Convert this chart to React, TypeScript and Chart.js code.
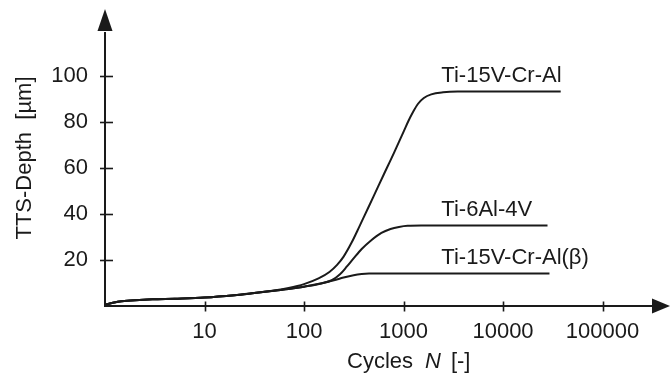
import React, { useEffect, useRef } from "react";
import { Chart, registerables } from "chart.js";

Chart.register(...registerables);

// ---- data ----
const seriesNames = ["Ti-15V-Cr-Al", "Ti-6Al-4V", "Ti-15V-Cr-Al(β)"];

const cyclesA = [1, 1.4, 2, 3, 5, 10, 20, 30, 50, 70, 100, 140, 180, 215, 250, 300, 355, 400, 500, 630, 800, 1000, 1120, 1250, 1400, 1600, 1900, 2500, 3500, 38000];
const depthA = [0.6, 2.0, 2.5, 2.9, 3.2, 3.7, 4.7, 5.5, 6.7, 7.8, 9.5, 12, 14.8, 17.9, 21.5, 27.5, 34, 38.8, 47.7, 57, 66.5, 75.8, 80.5, 84.5, 88, 90.5, 92.1, 93, 93.3, 93.3];

const cyclesB = [1, 1.4, 2, 3, 5, 10, 20, 30, 50, 70, 100, 150, 190, 230, 270, 315, 380, 465, 600, 740, 900, 1100, 1500, 28000];
const depthB = [0.6, 2.0, 2.5, 2.9, 3.2, 3.7, 4.7, 5.5, 6.6, 7.4, 8.4, 9.8, 11.2, 13.8, 17.2, 20.7, 24.8, 28.3, 31.8, 33.5, 34.4, 34.9, 35, 35];

const cyclesC = [1, 1.4, 2, 3, 5, 10, 20, 30, 50, 70, 100, 150, 200, 250, 315, 380, 450, 29300];
const depthC = [0.6, 2.0, 2.5, 2.9, 3.2, 3.7, 4.7, 5.5, 6.6, 7.4, 8.4, 9.9, 11.2, 12.4, 13.4, 13.9, 14.1, 14.1];

const xTickValues = [10, 100, 1000, 10000, 100000];
const yTickValues = [20, 40, 60, 80, 100];
const xMin = 1;
const xMax = 361000;
const yMin = 0;
const yMax = 120;
const labelCycle = 2400;

const xTitleParts = ["Cycles", "N", "[-]"];
const yTitle = "TTS-Depth  [µm]";

const FONT = "'Liberation Sans', Arial, Helvetica, sans-serif";
const INK = "#1a1a1a";

const toPoints = (xs: number[], ys: number[]) => xs.map((x, i) => ({ x, y: ys[i] }));

const decorPlugin = {
  id: "decor",
  afterDraw(chart: any) {
    const { ctx, chartArea, scales } = chart;
    const xs = scales.x;
    const ys = scales.y;
    const left = chartArea.left;
    const bottom = chartArea.bottom;
    ctx.save();
    ctx.strokeStyle = INK;
    ctx.fillStyle = INK;
    ctx.lineWidth = 2;
    // x axis line + arrow
    ctx.beginPath();
    ctx.moveTo(left - 1, bottom);
    ctx.lineTo(655, bottom);
    ctx.stroke();
    ctx.beginPath();
    ctx.moveTo(652, bottom - 7.5);
    ctx.lineTo(670, bottom);
    ctx.lineTo(652, bottom + 7.5);
    ctx.closePath();
    ctx.fill();
    // y axis line + arrow
    ctx.beginPath();
    ctx.moveTo(left, bottom + 1);
    ctx.lineTo(left, 32);
    ctx.stroke();
    ctx.beginPath();
    ctx.moveTo(left - 7.5, 31);
    ctx.lineTo(left, 9);
    ctx.lineTo(left + 7.5, 31);
    ctx.closePath();
    ctx.fill();
    // tick marks crossing axes
    ctx.lineWidth = 1.6;
    xs.ticks.forEach((t: any) => {
      const px = Math.round(xs.getPixelForValue(t.value)) + 0.5;
      ctx.beginPath();
      ctx.moveTo(px, bottom - 4.5);
      ctx.lineTo(px, bottom + 5.5);
      ctx.stroke();
    });
    ys.ticks.forEach((t: any) => {
      const py = Math.round(ys.getPixelForValue(t.value)) + 0.5;
      ctx.beginPath();
      ctx.moveTo(left - 5, py);
      ctx.lineTo(left + 8, py);
      ctx.stroke();
    });
    // series labels
    ctx.font = `22px ${FONT}`;
    ctx.textAlign = "left";
    ctx.textBaseline = "alphabetic";
    chart.data.datasets.forEach((ds: any, i: number) => {
      const last = ds.data[ds.data.length - 1];
      const py = ys.getPixelForValue(last.y);
      const px = xs.getPixelForValue(labelCycle);
      ctx.fillText(seriesNames[i], px, py - 10);
    });
    // x title (with italic N)
    const ty = 362;
    let tx = 347;
    ctx.textBaseline = "middle";
    ctx.font = `22px ${FONT}`;
    ctx.fillText(xTitleParts[0], tx, ty);
    tx += ctx.measureText(xTitleParts[0]).width + 12;
    ctx.font = `italic 22px ${FONT}`;
    ctx.fillText(xTitleParts[1], tx, ty);
    tx += ctx.measureText(xTitleParts[1]).width + 10;
    ctx.font = `22px ${FONT}`;
    ctx.fillText(xTitleParts[2], tx, ty);
    // y title
    ctx.save();
    ctx.translate(25, 158);
    ctx.rotate(-Math.PI / 2);
    ctx.textAlign = "center";
    ctx.textBaseline = "middle";
    ctx.font = `22px ${FONT}`;
    ctx.fillText(yTitle, 0, 0);
    ctx.restore();
    ctx.restore();
  },
};

export default function App() {
  const ref = useRef<HTMLCanvasElement | null>(null);
  useEffect(() => {
    if (!ref.current) return;
    const mk = (xs: number[], ys: number[]) => ({
      data: toPoints(xs, ys),
      borderColor: INK,
      borderWidth: 2,
      pointRadius: 0,
      fill: false,
      cubicInterpolationMode: "monotone" as const,
    });
    const chart = new Chart(ref.current, {
      type: "line",
      data: {
        datasets: [mk(cyclesA, depthA), mk(cyclesB, depthB), mk(cyclesC, depthC)],
      },
      options: {
        animation: false,
        responsive: false,
        devicePixelRatio: 1,
        layout: { padding: { top: 19.8, right: 12, left: 0, bottom: 0 } },
        plugins: { legend: { display: false }, tooltip: { enabled: false } },
        scales: {
          x: {
            type: "logarithmic",
            min: xMin,
            max: xMax,
            grid: { display: false, drawTicks: false },
            border: { display: false },
            afterBuildTicks: (s: any) => {
              s.ticks = xTickValues.map((v) => ({ value: v }));
            },
            afterFit: (s: any) => {
              s.height = 74;
            },
            ticks: {
              autoSkip: false,
              maxRotation: 0,
              padding: 13,
              color: INK,
              font: { family: FONT, size: 22 },
              callback: (v: any) => String(v),
            },
          },
          y: {
            type: "linear",
            min: yMin,
            max: yMax,
            grid: { display: false, drawTicks: false },
            border: { display: false },
            afterBuildTicks: (s: any) => {
              s.ticks = yTickValues.map((v) => ({ value: v }));
            },
            afterFit: (s: any) => {
              s.width = 105;
            },
            ticks: {
              padding: 17,
              color: INK,
              font: { family: FONT, size: 22 },
              callback: (v: any) => String(v),
            },
          },
        },
      },
      plugins: [decorPlugin],
    });
    return () => chart.destroy();
  }, []);
  return (
    <div style={{ position: "fixed", left: 0, top: 0, width: 670, height: 380, background: "#fff" }}>
      <canvas ref={ref} width={670} height={380} />
    </div>
  );
}
